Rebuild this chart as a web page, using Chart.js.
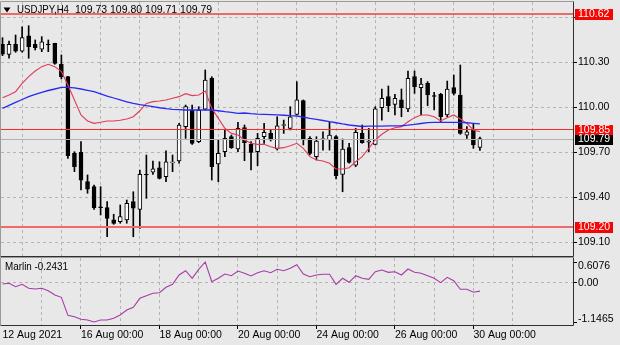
<!DOCTYPE html>
<html>
<head>
<meta charset="utf-8">
<script src="https://cdn.jsdelivr.net/npm/chart.js@4.4.0/dist/chart.umd.min.js"></script>
<style>
  html, body { margin: 0; padding: 0; background: #e8e8e8; }
  #wrap { position: relative; width: 620px; height: 345px; overflow: hidden; background: #e8e8e8; }
  #main { position: absolute; left: 0; top: 0; }
  #sub { position: absolute; left: 0; top: 257px; }
</style>
</head>
<body>
<div id="wrap">
  <canvas id="main" width="620" height="258"></canvas>
  <canvas id="sub" width="620" height="88"></canvas>
</div>
<script>
// USDJPY H4, 12 Aug - 30 Aug 2021
const symbol = 'USDJPY,H4';
const opens = [110.418,110.351,110.418,110.373,110.475,110.418,110.385,110.42,110.424,110.285,
  110.202,109.691,109.698,109.502,109.469,109.335,109.329,109.247,109.235,109.247,
  109.369,109.318,109.551,109.565,109.595,109.535,109.628,109.64,109.869,109.98,
  109.769,109.985,110.191,109.62,109.702,109.802,109.72,109.862,109.753,109.702,
  109.802,109.824,109.72,109.878,109.858,109.951,110.042,109.791,109.669,109.784,
  109.78,109.802,109.551,109.729,109.613,109.824,109.765,109.751,109.995,110.069,
  110.018,110.047,109.987,110.202,110.129,110.158,110.076,110.085,109.947,110.129,
  110.08,109.813,109.847,109.73];
const highs = [110.462,110.44,110.48,110.535,110.542,110.447,110.469,110.447,110.425,110.347,
  110.205,109.702,109.769,109.547,109.48,109.469,109.369,109.285,109.347,109.38,
  109.435,109.58,109.68,109.64,109.635,109.707,109.68,109.891,110.013,110.013,
  110.002,110.247,110.202,109.78,109.847,109.813,109.898,109.88,109.769,109.824,
  109.891,109.847,109.935,109.913,110.002,110.169,110.047,109.802,109.802,109.835,
  109.898,109.809,109.787,109.758,109.858,109.88,109.858,110.002,110.12,110.14,
  110.085,110.12,110.24,110.24,110.191,110.169,110.098,110.091,110.173,110.213,
  110.28,109.869,109.891,109.80];
const lows = [110.342,110.325,110.365,110.365,110.325,110.38,110.369,110.369,110.285,110.187,
  109.658,109.569,109.447,109.425,109.318,109.28,109.135,109.218,109.225,109.225,
  109.135,109.191,109.391,109.551,109.52,109.502,109.569,109.625,109.791,109.75,
  109.762,109.98,109.513,109.502,109.669,109.724,109.702,109.642,109.58,109.609,
  109.758,109.773,109.713,109.824,109.847,109.947,109.747,109.68,109.647,109.713,
  109.713,109.52,109.435,109.625,109.602,109.758,109.702,109.747,109.913,109.969,
  109.947,109.935,109.969,110.091,109.947,110.009,109.98,109.898,109.935,110.08,
  109.818,109.791,109.724,109.71];
const closes = [110.353,110.418,110.373,110.462,110.402,110.395,110.435,110.415,110.291,110.202,
  109.675,109.602,109.513,109.453,109.329,109.329,109.258,109.224,109.269,109.358,
  109.325,109.551,109.547,109.587,109.524,109.635,109.633,109.88,110.002,109.758,
  109.98,110.18,109.602,109.691,109.791,109.729,109.858,109.762,109.698,109.791,
  109.831,109.787,109.875,109.882,109.935,110.047,109.78,109.691,109.773,109.79,
  109.813,109.542,109.72,109.631,109.831,109.762,109.772,109.987,110.058,110.009,
  110.058,109.995,110.191,110.135,110.153,110.08,110.071,109.935,110.12,110.091,
  109.824,109.835,109.747,109.79];

// moving averages drawn on the price pane
const maFast = [110.062,110.08,110.102,110.158,110.202,110.24,110.269,110.285,110.269,110.236,
  110.147,110.047,109.947,109.907,109.891,109.898,109.907,109.907,109.912,109.92,
  109.935,109.975,110.024,110.036,110.04,110.047,110.058,110.069,110.089,110.076,
  110.08,110.107,109.991,109.924,109.858,109.824,109.813,109.78,109.758,109.751,
  109.751,109.735,109.724,109.729,109.742,109.758,109.724,109.669,109.647,109.64,
  109.625,109.587,109.587,109.595,109.635,109.669,109.724,109.78,109.818,109.847,
  109.862,109.869,109.902,109.929,109.947,109.947,109.935,109.907,109.929,109.947,
  109.92,109.891,109.847,109.835];
const maSlow = [109.991,110.011,110.031,110.05,110.069,110.084,110.098,110.11,110.12,110.131,
  110.131,110.128,110.12,110.111,110.102,110.088,110.073,110.06,110.047,110.035,
  110.024,110.016,110.009,110.002,109.995,109.989,109.984,109.982,109.98,109.98,
  109.98,109.98,109.98,109.975,109.969,109.964,109.958,109.96,109.956,109.953,
  109.951,109.949,109.947,109.945,109.942,109.94,109.932,109.924,109.917,109.91,
  109.902,109.895,109.887,109.88,109.875,109.87,109.872,109.873,109.873,109.874,
  109.874,109.875,109.879,109.884,109.89,109.896,109.897,109.898,109.898,109.898,
  109.898,109.895,109.891,109.887];

// Marlin oscillator, lower pane
const marlin = [-0.036,-0.015,-0.115,-0.044,-0.161,-0.182,-0.161,-0.232,-0.357,-0.425,
  -0.951,-0.992,-1.068,-1.088,-1.1465,-1.088,-1.088,-1.039,-0.942,-0.796,
  -0.717,-0.454,-0.378,-0.308,-0.290,-0.132,-0.045,0.227,0.353,0.131,
  0.394,0.6076,0.032,0.131,0.257,0.207,0.344,0.277,0.198,0.295,
  0.353,0.295,0.394,0.353,0.423,0.529,0.257,0.178,0.227,0.248,
  0.248,-0.045,0.131,0.014,0.207,0.131,0.102,0.324,0.374,0.306,
  0.324,0.227,0.403,0.306,0.277,0.207,0.131,0.003,0.160,0.061,
  -0.191,-0.191,-0.278,-0.2431];

// time labels, one every 12 bars starting from bar 0
const dateLabels = ['12 Aug 2021','16 Aug 00:00','18 Aug 00:00','20 Aug 00:00','24 Aug 00:00','26 Aug 00:00','30 Aug 00:00'];
const priceTicks = [109.10, 109.40, 109.70, 110.00, 110.30, 110.60];
const levels = [110.62, 109.85, 109.20];
const marlinTicks = [0.6076, 0, -1.1465];

const FONT = '"Liberation Sans", Arial, sans-serif';
const last = closes.length - 1;
const bars = closes.map((c, i) => i);
const xMin = -0.23, xMax = 87.23;
const gridTicks = [];
for (let v = 0; v <= 84; v += 6) gridTicks.push(v);

function setTicks(values) {
  return scale => { scale.ticks = values.map(v => ({ value: v })); };
}
// fixed axis size, no extra room reserved for edge labels
function fixSize(prop, size) {
  return scale => {
    scale[prop] = size;
    scale.paddingTop = 0; scale.paddingBottom = 0;
    scale.paddingLeft = 0; scale.paddingRight = 0;
  };
}

const paneBorder = (ctx, a) => {
  ctx.save();
  ctx.lineWidth = 1;
  ctx.strokeStyle = '#9a9a9a';
  ctx.beginPath();
  ctx.moveTo(a.left - 0.5, a.bottom);
  ctx.lineTo(a.left - 0.5, a.top - 0.5);
  ctx.lineTo(a.right, a.top - 0.5);
  ctx.stroke();
  ctx.strokeStyle = '#303030';
  ctx.beginPath();
  ctx.moveTo(a.right + 0.5, a.top - 0.5);
  ctx.lineTo(a.right + 0.5, a.bottom + 0.5);
  ctx.lineTo(a.left - 0.5, a.bottom + 0.5);
  ctx.stroke();
  ctx.restore();
};

const priceOverlay = {
  id: 'priceOverlay',
  afterDatasetsDraw(chart) {
    const { ctx, chartArea: a, scales: { y } } = chart;
    ctx.save();
    // current bid line
    const by = Math.round(y.getPixelForValue(closes[last])) + 0.5;
    ctx.strokeStyle = '#b0b0b0';
    ctx.lineWidth = 1;
    ctx.beginPath(); ctx.moveTo(a.left, by); ctx.lineTo(a.right, by); ctx.stroke();
    // horizontal levels
    const widths = [1.5, 1, 2];
    const colors = ['#f04040', '#ff2a2a', '#f06a6a'];
    levels.forEach((lv, k) => {
      const py = y.getPixelForValue(lv);
      ctx.strokeStyle = colors[k];
      ctx.lineWidth = widths[k];
      ctx.beginPath(); ctx.moveTo(a.left, py); ctx.lineTo(a.right, py); ctx.stroke();
    });
    ctx.restore();
  },
  afterDraw(chart) {
    const { ctx, chartArea: a, scales: { y } } = chart;
    paneBorder(ctx, a);
    ctx.save();
    ctx.font = '10.5px ' + FONT;
    ctx.textBaseline = 'middle';
    const box = (v, bg) => {
      const py = Math.round(y.getPixelForValue(v));
      ctx.fillStyle = bg;
      ctx.fillRect(a.right + 2, py - 5, 38, 11);
      ctx.fillStyle = '#ffffff';
      ctx.fillText(v.toFixed(2), a.right + 5, py + 0.5);
    };
    levels.forEach(lv => box(lv, '#ff0000'));
    // bid label sits right under the 109.85 box
    const bidY = Math.round(y.getPixelForValue(closes[last]));
    ctx.fillStyle = '#000000';
    ctx.fillRect(a.right + 2, bidY - 4, 38, 10);
    ctx.fillStyle = '#ffffff';
    ctx.fillText(closes[last].toFixed(2), a.right + 5, bidY + 0.5);

    // symbol header with last bar OHLC
    ctx.fillStyle = '#000000';
    ctx.beginPath();
    ctx.moveTo(3.5, 7.5); ctx.lineTo(10.5, 7.5); ctx.lineTo(7, 12.5); ctx.closePath();
    ctx.fill();
    const ohlc = [opens[last], highs[last], lows[last], closes[last]].map(v => v.toFixed(2)).join(' ');
    ctx.fillText(symbol, 17, 10.5, 52);
    ctx.fillText(ohlc, 75, 10.5);
    ctx.restore();
  }
};

const xGrid = {
  color: c => (c.tick && c.tick.value > 0) ? '#b4b4b4' : 'rgba(0,0,0,0)',
  lineWidth: 1,
  drawTicks: false
};

new Chart(document.getElementById('main'), {
  type: 'bar',
  data: {
    datasets: [
      { type: 'line', data: bars.map(i => ({ x: i, y: maSlow[i] })), borderColor: '#2a2af2', borderWidth: 1.3, pointRadius: 0, tension: 0, order: 0 },
      { type: 'line', data: bars.map(i => ({ x: i, y: maFast[i] })), borderColor: '#e23a5c', borderWidth: 1.1, pointRadius: 0, tension: 0, order: 1 },
      { type: 'bar', data: bars.map(i => ({ x: i, y: [opens[i], closes[i]] })),
        backgroundColor: bars.map(i => closes[i] >= opens[i] ? '#ffffff' : '#000000'),
        borderColor: '#000000', borderWidth: 1, borderSkipped: false, barThickness: 4, grouped: false, order: 2 },
      { type: 'bar', data: bars.map(i => ({ x: i, y: [lows[i], highs[i]] })),
        backgroundColor: '#000000', borderWidth: 0, barThickness: 1, grouped: false, order: 3 }
    ]
  },
  options: {
    responsive: false,
    animation: false,
    layout: { padding: { left: 1, top: 2, right: 0, bottom: 2 } },
    plugins: { legend: { display: false }, tooltip: { enabled: false } },
    scales: {
      x: {
        type: 'linear', min: xMin, max: xMax, offset: false,
        afterBuildTicks: setTicks(gridTicks),
        afterFit: fixSize('height', 0),
        ticks: { display: false },
        grid: xGrid,
        border: { display: false, dash: [3, 3] }
      },
      y: {
        position: 'right', min: 109.0067, max: 110.70,
        afterBuildTicks: setTicks(priceTicks),
        afterFit: fixSize('width', 47),
        ticks: {
          color: '#000000', padding: 1,
          font: { family: FONT, size: 10.5 },
          callback: v => (v > 110.5 ? '' : v.toFixed(2))
        },
        grid: { color: '#b4b4b4', tickColor: '#000000', tickLength: 4, tickBorderDash: [] },
        border: { display: false, dash: [3, 3] }
      }
    }
  },
  plugins: [priceOverlay]
});

// lower pane: Marlin oscillator
const subMin = -1.2342, subMax = 0.7246;
const marlinOverlay = {
  id: 'marlinOverlay',
  afterDraw(chart) {
    const { ctx, chartArea: a, scales: { y } } = chart;
    paneBorder(ctx, a);
    ctx.save();
    ctx.font = '10.5px ' + FONT;
    ctx.textBaseline = 'middle';
    ctx.fillStyle = '#000000';
    marlinTicks.forEach(v => {
      const py = Math.min(Math.max(y.getPixelForValue(v), a.top + 8), a.bottom - 6);
      ctx.fillText(v === 0 ? '0.00' : String(v), a.right + 5, py);
    });
    ctx.fillText('Marlin ' + marlin[last].toFixed(4), 5, 10, 63);
    ctx.restore();
  }
};

new Chart(document.getElementById('sub'), {
  type: 'line',
  data: {
    datasets: [
      { data: bars.map(i => ({ x: i, y: marlin[i] })), borderColor: '#a63ca8', borderWidth: 1.1, pointRadius: 0, tension: 0 }
    ]
  },
  options: {
    responsive: false,
    animation: false,
    layout: { padding: { left: 1, top: 1, right: 0, bottom: 0 } },
    plugins: { legend: { display: false }, tooltip: { enabled: false } },
    scales: {
      x: {
        type: 'linear', min: xMin, max: xMax, offset: false,
        afterBuildTicks: setTicks(gridTicks),
        afterFit: fixSize('height', 20),
        ticks: {
          align: 'start', autoSkip: false, maxRotation: 0, minRotation: 0, padding: 0,
          color: '#000000', font: { family: FONT, size: 10.5 },
          callback: v => (v % 12 === 0 ? dateLabels[v / 12] : '')
        },
        grid: {
          color: c => (c.tick && c.tick.value > 0) ? '#b4b4b4' : 'rgba(0,0,0,0)',
          tickColor: c => (c.tick && c.tick.value % 12 === 0 && c.tick.value > 0) ? '#000000' : 'rgba(0,0,0,0)',
          tickLength: 4, tickBorderDash: []
        },
        border: { display: false, dash: [3, 3] }
      },
      y: {
        position: 'right', min: subMin, max: subMax,
        afterBuildTicks: setTicks(marlinTicks),
        afterFit: fixSize('width', 47),
        ticks: { display: false },
        grid: {
          color: c => (c.tick && c.tick.value === 0) ? '#b4b4b4' : 'rgba(0,0,0,0)',
          tickColor: '#000000', tickLength: 4, tickBorderDash: []
        },
        border: { display: false, dash: [3, 3] }
      }
    }
  },
  plugins: [marlinOverlay]
});
</script>
</body>
</html>
